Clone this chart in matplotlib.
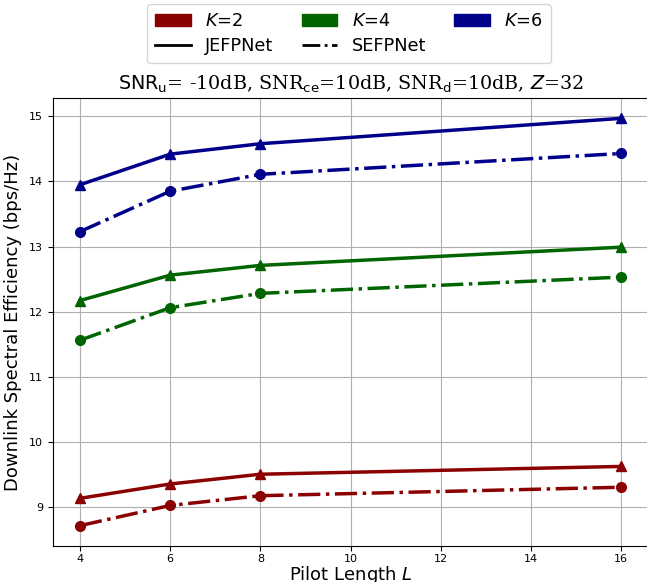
import matplotlib
matplotlib.use("Agg")
import matplotlib.pyplot as plt
from matplotlib.patches import Patch
from matplotlib.lines import Line2D

# pilot lengths
pilot = [4, 6, 8, 16]

# spectral efficiency
k2_jefp = [9.13, 9.35, 9.50, 9.62]
k2_sefp = [8.71, 9.02, 9.17, 9.30]
k4_jefp = [12.17, 12.56, 12.71, 12.99]
k4_sefp = [11.56, 12.06, 12.28, 12.53]
k6_jefp = [13.95, 14.42, 14.58, 14.97]
k6_sefp = [13.23, 13.85, 14.11, 14.43]

colors = {"2": "darkred", "4": "darkgreen", "6": "darkblue"}

fig = plt.figure(figsize=(6.47, 5.82), dpi=100)
ax = fig.add_axes([53 / 647, 36 / 582, (648 - 53) / 647, (546 - 98) / 582])

for k, jefp, sefp in [("2", k2_jefp, k2_sefp), ("4", k4_jefp, k4_sefp), ("6", k6_jefp, k6_sefp)]:
    ax.plot(pilot, jefp, color=colors[k], linestyle="-", marker="^", markersize=7, linewidth=2.5)
    ax.plot(pilot, sefp, color=colors[k], linestyle="-.", marker="o", markersize=7, linewidth=2.5)

ax.set_xticks([4, 6, 8, 10, 12, 14, 16])
ax.tick_params(labelsize=8)
ax.tick_params(axis="x", pad=2.5)
ax.grid(True, color="#b0b0b0", linewidth=0.8)
ax.set_xlabel("Pilot Length $L$", fontsize=13, labelpad=0)
ax.set_ylabel("Downlink Spectral Efficiency (bps/Hz)", fontsize=13, labelpad=5)
ax.set_title(r"$\mathrm{SNR_u}$= -10dB, SNR$_\mathrm{ce}$=10dB, SNR$_\mathrm{d}$=10dB, $Z$=32",
             fontsize=13.8, family="DejaVu Serif", pad=6)

handles = [
    Patch(color=colors["2"], label="$K$=2"),
    Line2D([], [], color="black", linestyle="-", linewidth=2, label="JEFPNet"),
    Patch(color=colors["4"], label="$K$=4"),
    Line2D([], [], color="black", linestyle="-.", linewidth=2, label="SEFPNet"),
    Patch(color=colors["6"], label="$K$=6"),
]
fig.legend(handles=handles, ncol=3, loc="upper center", bbox_to_anchor=(349 / 647, 1.008),
           fontsize=12.8, handlelength=2.0, columnspacing=1.6, borderpad=0.45,
           labelspacing=0.4, frameon=True)

fig.savefig("out.png", dpi=100)
